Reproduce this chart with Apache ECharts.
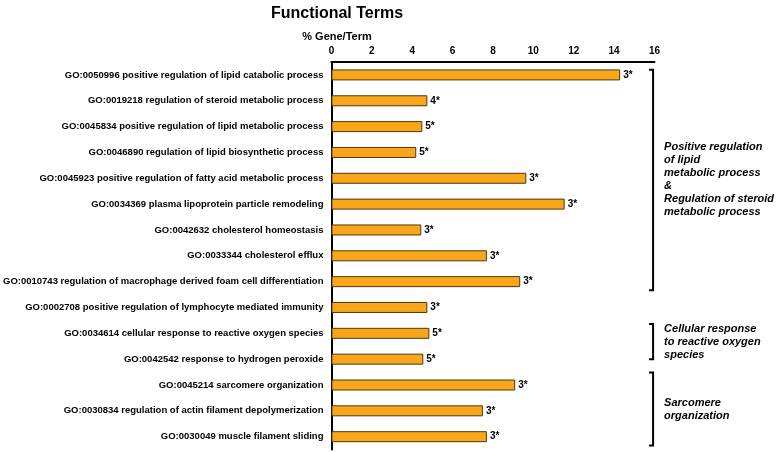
<!DOCTYPE html>
<html>
<head>
<meta charset="utf-8">
<script src="https://cdn.jsdelivr.net/npm/echarts@6/dist/echarts.min.js"></script>
<style>html,body{margin:0;padding:0;background:#fff}#c{width:778px;height:452px}</style>
</head>
<body>
<div id="c"></div>
<script>
const categories = [
  'GO:0050996 positive regulation of lipid catabolic process',
  'GO:0019218 regulation of steroid metabolic process',
  'GO:0045834 positive regulation of lipid metabolic process',
  'GO:0046890 regulation of lipid biosynthetic process',
  'GO:0045923 positive regulation of fatty acid metabolic process',
  'GO:0034369 plasma lipoprotein particle remodeling',
  'GO:0042632 cholesterol homeostasis',
  'GO:0033344 cholesterol efflux',
  'GO:0010743 regulation of macrophage derived foam cell differentiation',
  'GO:0002708 positive regulation of lymphocyte mediated immunity',
  'GO:0034614 cellular response to reactive oxygen species',
  'GO:0042542 response to hydrogen peroxide',
  'GO:0045214 sarcomere organization',
  'GO:0030834 regulation of actin filament depolymerization',
  'GO:0030049 muscle filament sliding'
];
const values = [14.3, 4.75, 4.5, 4.2, 9.65, 11.55, 4.45, 7.7, 9.35, 4.75, 4.85, 4.55, 9.1, 7.5, 7.7];
const barLabels = ['3*','4*','5*','5*','3*','3*','3*','3*','3*','3*','5*','5*','3*','3*','3*'];
const xTicks = [0, 2, 4, 6, 8, 10, 12, 14, 16];
const groupSpans = [[-0.2, 8.33], [9.64, 11.0], [11.52, 14.34]];
const groupTexts = [
  'Positive regulation\nof lipid\nmetabolic process\n&\nRegulation of steroid\nmetabolic process',
  'Cellular response\nto reactive oxygen\nspecies',
  'Sarcomere\norganization'
];

const FONT = '"Liberation Sans", Arial, sans-serif';
const chart = echarts.init(document.getElementById('c'));
chart.setOption({
  animation: false,
  backgroundColor: '#fff',
  title: [
    { text: 'Functional Terms', left: 332, top: 1, textAlign: 'center',
      textStyle: { fontFamily: FONT, fontSize: 16, fontWeight: 'bold', color: '#000' } },
    { text: '% Gene/Term', left: 332, top: 26, textAlign: 'center',
      textStyle: { fontFamily: FONT, fontSize: 11, fontWeight: 'bold', color: '#000' } }
  ],
  grid: { left: 330.5, right: 123.5, top: 62, bottom: 2.4, containLabel: false },
  xAxis: {
    type: 'value', position: 'top', min: xTicks[0], max: xTicks[xTicks.length - 1], interval: 2,
    axisLine: { show: true, lineStyle: { color: '#000', width: 2 } },
    axisTick: { show: false },
    splitLine: { show: false },
    axisLabel: { margin: 6, fontFamily: FONT, fontSize: 10, fontWeight: 'bold', color: '#000' }
  },
  yAxis: {
    type: 'category', inverse: true, data: categories,
    axisLine: { show: true, lineStyle: { color: '#000', width: 2 } },
    axisTick: { show: false },
    axisLabel: { margin: 8, fontFamily: FONT, fontSize: 9.5, fontWeight: 'bold', color: '#000' }
  },
  series: [{
    type: 'bar', data: values, barWidth: 11,
    itemStyle: { color: '#FAA61A', borderColor: '#4a3a10', borderWidth: 1 },
    label: {
      show: true, position: 'right', distance: 3,
      fontFamily: FONT, fontSize: 10, fontWeight: 'bold', color: '#000',
      formatter: p => barLabels[p.dataIndex]
    }
  }]
});

function catPix(f) {
  const p0 = chart.convertToPixel({ yAxisIndex: 0 }, 0);
  const p1 = chart.convertToPixel({ yAxisIndex: 0 }, 1);
  return p0 + (p1 - p0) * f;
}
const bx = chart.convertToPixel({ xAxisIndex: 0 }, 15.93);
const elements = [];
groupSpans.forEach((s, i) => {
  const t = catPix(s[0]), b = catPix(s[1]);
  elements.push({
    type: 'polyline',
    shape: { points: [[bx - 4, t], [bx, t], [bx, b], [bx - 4, b]] },
    style: { stroke: '#000', lineWidth: 2, fill: null }
  });
  elements.push({
    type: 'text', x: bx + 11, y: (t + b) / 2,
    style: {
      text: groupTexts[i], fontFamily: FONT, fontSize: 11, fontWeight: 'bold', fontStyle: 'italic',
      lineHeight: 13, fill: '#000', verticalAlign: 'middle', align: 'left'
    }
  });
});
chart.setOption({ graphic: { elements } });
</script>
</body>
</html>
